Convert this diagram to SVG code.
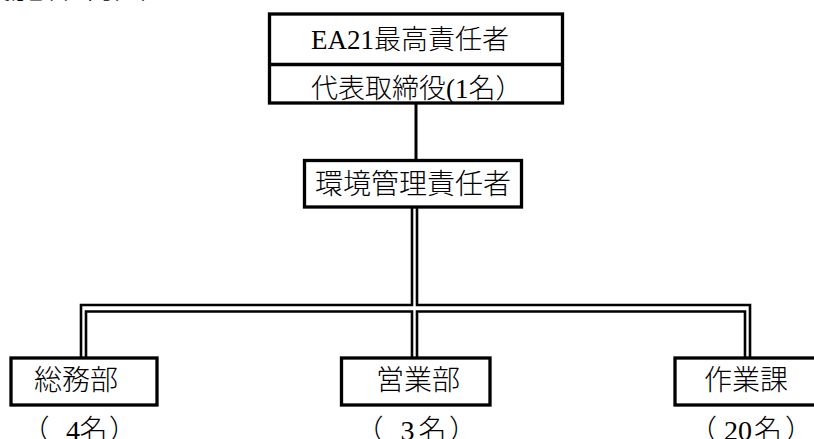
<svg xmlns="http://www.w3.org/2000/svg" width="814" height="439" viewBox="0 0 814 439">
<style>
.box{fill:#fff;stroke:#000;stroke-width:3.3}
.ln{fill:none;stroke:#000;stroke-width:2.6}
.t{font-family:"Liberation Serif","Noto Sans CJK JP",serif;font-size:28px;font-weight:300;fill:#000}
.t27{font-size:27px}
</style>
<rect width="814" height="439" fill="#fff"/>
<text class="t" x="-23" y="-2" style="font-size:34px">実施体制図</text>
<g id="connectors">
<path class="ln" d="M416,103 V160" style="stroke-width:3"/>
<path class="ln" d="M81,358 V305 H412 V207 M417,207 V305 H750 V358"/>
<path class="ln" d="M86,358 V311.5 H412 V358 M417,358 V311.5 H745 V358"/>
</g>
<g id="top">
<rect class="box" x="269.5" y="14" width="293" height="89"/>
<line x1="269.5" y1="64.5" x2="562.5" y2="64.5" stroke="#000" stroke-width="3.3"/>
<text class="t t27" x="311" y="48.5">EA21最高責任者</text>
<text class="t t27" x="311" y="98">代表取締役(1名）</text>
</g>
<g id="env">
<rect class="box" x="304.5" y="160.5" width="217" height="46.5"/>
<text class="t" x="315" y="194">環境管理責任者</text>
</g>
<g id="soumu">
<rect class="box" x="11" y="358" width="146" height="47"/>
<text class="t" x="34" y="390">総務部</text>
<text class="t" x="21.4 48 66 79.5 109" y="440">（ 4名）</text>
</g>
<g id="eigyo">
<rect class="box" x="341.5" y="358" width="148.5" height="47"/>
<text class="t" x="355.4 380 400.5 418.5 449" y="440">（ 3名）</text>
<text class="t" x="376" y="390">営業部</text>
</g>
<g id="sagyo">
<rect class="box" x="675" y="358" width="150" height="47"/>
<text class="t" x="704" y="390">作業課</text>
<text class="t" x="689 710 724 738 754 785" y="440">（ 20名）</text>
</g>
</svg>
